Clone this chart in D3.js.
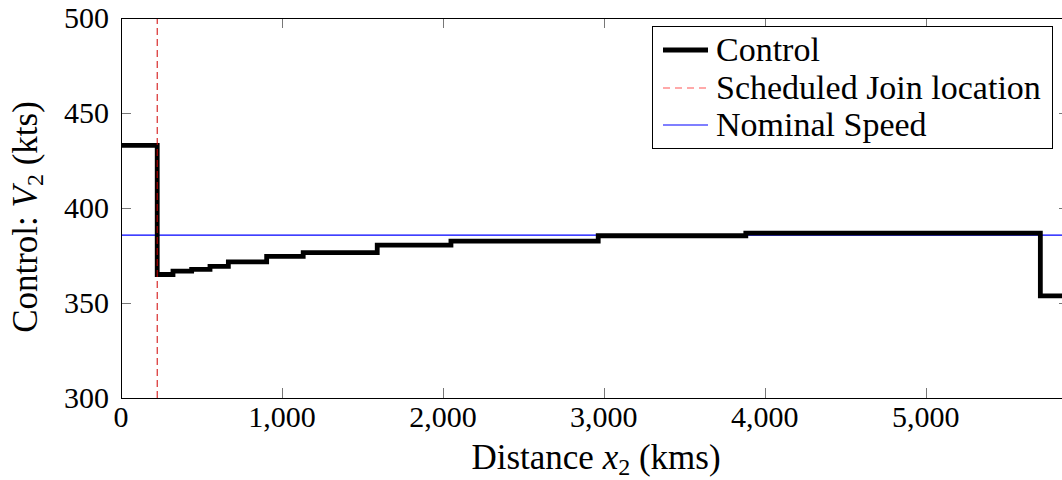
<!DOCTYPE html>
<html>
<head>
<meta charset="utf-8">
<script src="https://cdn.jsdelivr.net/npm/d3@7"></script>
<style>
  html, body { margin: 0; padding: 0; background: #fff; }
  svg { display: block; }
</style>
</head>
<body>
<svg id="chart" width="1062" height="480"></svg>
<script>
// ---- data ----
const stepStarts = [0, 225, 323, 439, 553, 667, 905, 1132, 1592, 2050, 2965, 3882, 5712];
const stepValues = [433, 365, 366.8, 367.7, 369.3, 371.6, 374.5, 376.5, 380.5, 382.6, 385.4, 386.8, 353.8];
const joinLocation = 225;
const nominalSpeed = 385.7;
const xTicks = [0, 1000, 2000, 3000, 4000, 5000];
const yTicks = [300, 350, 400, 450, 500];
const xDomain = [0, 5890];
const yDomain = [300, 500];
const legendLabels = ["Control", "Scheduled Join location", "Nominal Speed"];

// ---- layout ----
const FONT = "'Liberation Serif', 'DejaVu Serif', 'Noto Serif', 'Times New Roman', Times, serif";
const svg = d3.select("#chart").attr("font-family", FONT);
const pLeft = 121, pRight = 1069, pTop = 18, pBottom = 398;
const x = d3.scaleLinear().domain(xDomain).range([pLeft, pRight]);
const y = d3.scaleLinear().domain(yDomain).range([pBottom, pTop]);
const fmt = d3.format(",");

svg.append("defs").append("clipPath").attr("id", "plotclip")
  .append("rect").attr("x", pLeft).attr("y", pTop)
  .attr("width", pRight - pLeft).attr("height", pBottom - pTop);

const plot = svg.append("g").attr("clip-path", "url(#plotclip)");

// nominal speed
plot.append("line")
  .attr("x1", x(xDomain[0])).attr("x2", x(xDomain[1]))
  .attr("y1", y(nominalSpeed)).attr("y2", y(nominalSpeed))
  .attr("stroke", "#0000ff").attr("stroke-width", 1.1);

// control step line
const pts = stepStarts.map((s, i) => [s, stepValues[i]]);
pts.push([xDomain[1], stepValues[stepValues.length - 1]]);
const line = d3.line().x(d => x(d[0])).y(d => y(d[1])).curve(d3.curveStepAfter);
plot.append("path").attr("d", line(pts))
  .attr("fill", "none").attr("stroke", "#000").attr("stroke-width", 4.8)
  .attr("stroke-linejoin", "miter");

// scheduled join location
plot.append("line")
  .attr("x1", x(joinLocation)).attr("x2", x(joinLocation))
  .attr("y1", y(yDomain[0])).attr("y2", y(yDomain[1]))
  .attr("stroke", "#d00000").attr("stroke-width", 1)
  .attr("stroke-dasharray", "7,4");

// ticks (inward, all four sides)
const tickLen = 10;
const tg = svg.append("g").attr("stroke", "#777").attr("stroke-width", 1);
xTicks.forEach(t => {
  const xp = Math.round(x(t)) + 0.5;
  tg.append("line").attr("x1", xp).attr("x2", xp).attr("y1", pBottom).attr("y2", pBottom - tickLen);
  tg.append("line").attr("x1", xp).attr("x2", xp).attr("y1", pTop).attr("y2", pTop + tickLen);
});
yTicks.forEach(t => {
  const yp = Math.round(y(t)) + 0.5;
  tg.append("line").attr("x1", pLeft).attr("x2", pLeft + tickLen).attr("y1", yp).attr("y2", yp);
  tg.append("line").attr("x1", pRight).attr("x2", pRight - tickLen).attr("y1", yp).attr("y2", yp);
});

// frame
svg.append("rect").attr("x", pLeft + 0.5).attr("y", pTop + 0.5)
  .attr("width", pRight - pLeft).attr("height", pBottom - pTop)
  .attr("fill", "none").attr("stroke", "#000").attr("stroke-width", 1);

// tick labels
svg.append("g").selectAll("text").data(xTicks).join("text")
  .attr("font-family", FONT)
  .attr("x", d => x(d)).attr("y", 427)
  .attr("text-anchor", "middle").attr("font-size", 30)
  .text(d => fmt(d));
svg.append("g").selectAll("text").data(yTicks).join("text")
  .attr("font-family", FONT)
  .attr("x", 109).attr("y", d => y(d) + 10)
  .attr("text-anchor", "end").attr("font-size", 30)
  .text(d => d);

// axis labels
const xl = svg.append("text").attr("font-family", FONT).attr("x", 596).attr("y", 469)
  .attr("text-anchor", "middle").attr("font-size", 35);
xl.append("tspan").text("Distance ");
xl.append("tspan").attr("font-style", "italic").text("x");
xl.append("tspan").attr("font-size", 24).attr("dy", 6).text("2");
xl.append("tspan").attr("dy", -6).text(" (kms)");

const yl = svg.append("text").attr("font-family", FONT).attr("transform", "translate(37,217) rotate(-90)")
  .attr("text-anchor", "middle").attr("font-size", 35);
yl.append("tspan").text("Control: ");
yl.append("tspan").attr("font-style", "italic").text("V");
yl.append("tspan").attr("font-size", 24).attr("dy", 6).text("2");
yl.append("tspan").attr("dy", -6).text(" (kts)");

// legend
const lg = svg.append("g");
lg.append("rect").attr("x", 652.5).attr("y", 26.5).attr("width", 400).attr("height", 122)
  .attr("fill", "#fff").attr("stroke", "#000").attr("stroke-width", 1);
const rowsY = [50, 88, 125];
const styles = [
  {stroke: "#000", w: 4.8, dash: null},
  {stroke: "#ff5555", w: 1.2, dash: "7,5"},
  {stroke: "#0000ff", w: 1.1, dash: null}
];
legendLabels.forEach((lab, i) => {
  const l = lg.append("line").attr("x1", 663).attr("x2", 708)
    .attr("y1", rowsY[i]).attr("y2", rowsY[i])
    .attr("stroke", styles[i].stroke).attr("stroke-width", styles[i].w);
  if (styles[i].dash) l.attr("stroke-dasharray", styles[i].dash);
  lg.append("text").attr("font-family", FONT).attr("x", 716).attr("y", rowsY[i] + 11)
    .attr("font-size", 34).text(lab);
});
</script>
</body>
</html>
